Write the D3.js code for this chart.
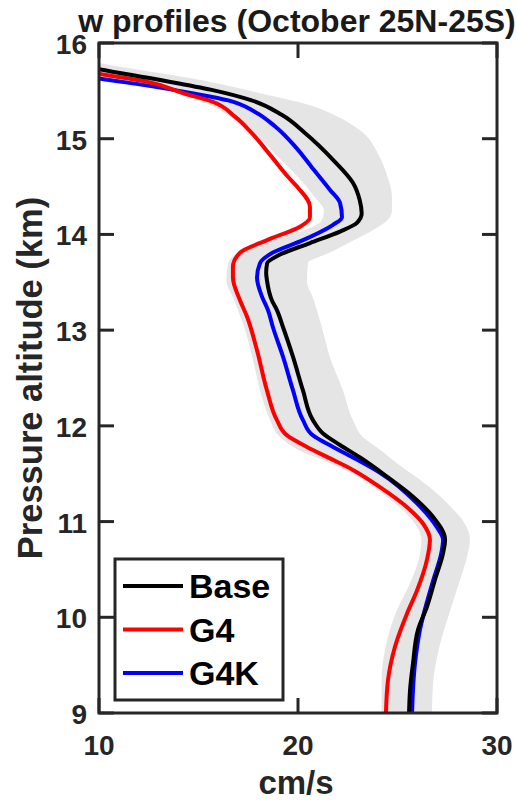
<!DOCTYPE html>
<html lang="en">
<head>
  <meta charset="UTF-8" />
  <title>w profiles (October 25N-25S)</title>
  <script src="https://d3js.org/d3.v7.min.js"></script>
  <style>
    body {
      margin: 0;
      padding: 0;
      background: #fff;
    }
    svg {
      display: block;
      font-family: "Liberation Sans", Arial, sans-serif;
      font-weight: bold;
    }
    .frame {
      fill: none;
      stroke: #262626;
      stroke-width: 3;
    }
    .tick {
      stroke: #262626;
      stroke-width: 3;
    }
    .ticklabel {
      fill: #262626;
      font-size: 28px;
    }
    .profile {
      fill: none;
      stroke-width: 4;
      stroke-linejoin: round;
    }
  </style>
</head>
<body>
  <svg width="517" height="803"></svg>

  <script>
    // altitudes (km) and w (cm/s)
    const baseAlt = [15.85, 15.725, 15.61, 15.51, 15.40, 15.25, 15.06, 14.78, 14.54, 14.36, 14.22, 14.12, 14.03, 13.91, 13.78, 13.70, 13.60, 13.52, 13.31, 13.21, 13.03, 12.72, 12.37, 12.06, 11.92, 11.80, 11.67, 11.47, 11.26, 11.05, 10.81, 10.67, 10.39, 10.11, 9.87, 9.52, 9.24, 9.0];
    const baseW = [7.0, 10.0, 13.15, 15.66, 17.67, 19.18, 20.35, 21.76, 22.76, 23.1, 23.2, 22.96, 22.11, 20.6, 19.0, 18.45, 18.4, 18.44, 18.69, 18.94, 19.25, 19.75, 20.25, 20.75, 21.26, 22.11, 23.12, 24.47, 25.78, 26.78, 27.39, 27.29, 26.88, 26.48, 26.03, 25.78, 25.63, 25.58];

    const g4Alt = [15.8, 15.68, 15.6, 15.47, 15.39, 15.23, 15.06, 14.81, 14.6, 14.5, 14.29, 14.18, 14.08, 13.94, 13.81, 13.66, 13.55, 13.31, 13.14, 12.79, 12.37, 12.06, 11.9, 11.78, 11.66, 11.54, 11.36, 11.15, 10.98, 10.81, 10.6, 10.28, 10.04, 9.69, 9.34, 9.0];
    const g4W = [7.5, 10.0, 12.31, 14.32, 15.66, 16.83, 17.67, 18.68, 19.51, 19.95, 20.6, 20.6, 20.1, 18.44, 17.09, 16.73, 16.73, 17.09, 17.44, 17.94, 18.44, 18.94, 19.45, 20.45, 21.61, 22.76, 24.12, 25.48, 26.28, 26.63, 26.48, 25.98, 25.48, 24.87, 24.52, 24.42];

    const g4kAlt = [15.75, 15.63, 15.56, 15.47, 15.4, 15.28, 15.13, 14.92, 14.7, 14.46, 14.33, 14.18, 14.1, 13.94, 13.81, 13.7, 13.55, 13.35, 13.21, 13.03, 12.72, 12.37, 12.06, 11.9, 11.78, 11.67, 11.51, 11.19, 10.94, 10.81, 10.67, 10.39, 9.87, 9.52, 9.0];
    const g4kW = [7.5, 10.0, 12.31, 14.82, 16.5, 17.84, 18.84, 19.85, 20.7, 21.63, 22.11, 22.21, 21.76, 20.25, 18.74, 18.09, 17.94, 18.19, 18.49, 18.74, 19.25, 19.75, 20.25, 20.75, 21.76, 22.76, 24.12, 25.98, 26.98, 27.29, 27.2, 26.8, 26.13, 25.88, 25.73];

    // grey spread band (min / max)
    const bandAlt = [16.0, 15.79, 15.62, 15.47, 15.35, 15.23, 15.09, 14.81, 14.6, 14.4, 14.25, 14.15, 14.05, 13.94, 13.81, 13.7, 13.52, 13.31, 13.03, 12.72, 12.37, 12.06, 11.88, 11.75, 11.61, 11.47, 11.33, 11.15, 11.05, 10.81, 10.63, 10.39, 10.04, 9.69, 9.34, 9.0];
    const bandMin = [4.0, 7.5, 10.0, 14.0, 15.6, 16.6, 17.6, 19.0, 20.0, 20.8, 21.3, 21.2, 20.4, 18.6, 17.0, 16.5, 16.4, 16.8, 17.3, 17.7, 18.1, 18.6, 19.1, 20.0, 21.6, 23.0, 24.0, 25.1, 25.6, 26.2, 26.1, 25.7, 24.9, 24.4, 24.2, 24.2];
    const bandMax = [6.0, 10.0, 14.9, 18.2, 20.6, 22.0, 23.1, 24.1, 24.5, 24.72, 24.72, 24.5, 23.8, 22.8, 21.6, 20.5, 20.45, 20.8, 21.2, 21.6, 22.26, 22.76, 23.27, 24.12, 24.97, 25.9, 26.78, 27.7, 28.14, 28.64, 28.49, 28.14, 27.6, 27.1, 26.8, 26.73];

    const xTicks = [10, 20, 30];
    const yTicks = [9, 10, 11, 12, 13, 14, 15, 16];

    const series = [
      { name: "G4K", alt: g4kAlt, w: g4kW, color: "#0000ff" },
      { name: "G4", alt: g4Alt, w: g4W, color: "#ff0000" },
      { name: "Base", alt: baseAlt, w: baseW, color: "#000000" },
    ];
    const legendOrder = ["Base", "G4", "G4K"];

    const svg = d3.select("svg");
    const pLeft = 99, pRight = 497, pTop = 43, pBottom = 713;

    const x = d3.scaleLinear().domain([10, 30]).range([pLeft, pRight]);
    const y = d3.scaleLinear().domain([9, 16]).range([pBottom, pTop]);

    svg.append("defs").append("clipPath").attr("id", "clip")
      .append("rect")
      .attr("x", pLeft).attr("y", pTop)
      .attr("width", pRight - pLeft).attr("height", pBottom - pTop);

    const plot = svg.append("g").attr("clip-path", "url(#clip)");

    // spread band
    const band = bandAlt.map((a, i) => ({ a, lo: bandMin[i], hi: bandMax[i] }));
    plot.append("path")
      .datum(band)
      .attr("fill", "#e5e5e5")
      .attr("d", d3.area()
        .curve(d3.curveMonotoneY)
        .y((d) => y(d.a))
        .x0((d) => x(d.lo))
        .x1((d) => x(d.hi)));

    const line = d3.line()
      .curve(d3.curveMonotoneY)
      .x((d) => x(d.w))
      .y((d) => y(d.a));

    series.forEach((s) => {
      plot.append("path")
        .datum(s.alt.map((a, i) => ({ a, w: s.w[i] })))
        .attr("class", "profile")
        .attr("stroke", s.color)
        .attr("d", line);
    });

    // frame and inward ticks
    svg.append("rect")
      .attr("class", "frame")
      .attr("x", pLeft).attr("y", pTop)
      .attr("width", pRight - pLeft).attr("height", pBottom - pTop);

    const tickLen = 15;
    yTicks.forEach((t) => {
      svg.append("line").attr("class", "tick")
        .attr("x1", pLeft).attr("x2", pLeft + tickLen)
        .attr("y1", y(t)).attr("y2", y(t));
      svg.append("line").attr("class", "tick")
        .attr("x1", pRight).attr("x2", pRight - tickLen)
        .attr("y1", y(t)).attr("y2", y(t));
      svg.append("text").attr("class", "ticklabel")
        .attr("x", 87).attr("y", y(t) + 11)
        .attr("text-anchor", "end")
        .text(t);
    });
    xTicks.forEach((t) => {
      svg.append("line").attr("class", "tick")
        .attr("x1", x(t)).attr("x2", x(t))
        .attr("y1", pBottom).attr("y2", pBottom - tickLen);
      svg.append("line").attr("class", "tick")
        .attr("x1", x(t)).attr("x2", x(t))
        .attr("y1", pTop).attr("y2", pTop + tickLen);
      svg.append("text").attr("class", "ticklabel")
        .attr("x", x(t)).attr("y", 755)
        .attr("text-anchor", "middle")
        .text(t);
    });

    // titles
    svg.append("text")
      .attr("x", 297).attr("y", 32)
      .attr("text-anchor", "middle")
      .attr("font-size", 32)
      .attr("fill", "#1a1a1a")
      .text("w profiles (October 25N-25S)");

    svg.append("text")
      .attr("x", 296).attr("y", 794)
      .attr("text-anchor", "middle")
      .attr("font-size", 33)
      .attr("fill", "#262626")
      .text("cm/s");

    svg.append("text")
      .attr("transform", `translate(42,${(pTop + pBottom) / 2}) rotate(-90)`)
      .attr("text-anchor", "middle")
      .attr("font-size", 34.5)
      .attr("fill", "#262626")
      .text("Pressure altitude (km)");

    // legend
    const lg = svg.append("g");
    lg.append("rect")
      .attr("x", 115).attr("y", 559)
      .attr("width", 168).attr("height", 141)
      .attr("fill", "#fff")
      .attr("stroke", "#262626")
      .attr("stroke-width", 3);
    legendOrder.forEach((name, i) => {
      const s = series.find((d) => d.name === name);
      const ly = 586 + i * 43.5;
      lg.append("line")
        .attr("x1", 123).attr("x2", 183)
        .attr("y1", ly).attr("y2", ly)
        .attr("stroke", s.color)
        .attr("stroke-width", 4);
      lg.append("text")
        .attr("x", 189).attr("y", ly + 12)
        .attr("font-size", 34)
        .attr("fill", "#000")
        .text(name);
    });
  </script>
</body>
</html>
